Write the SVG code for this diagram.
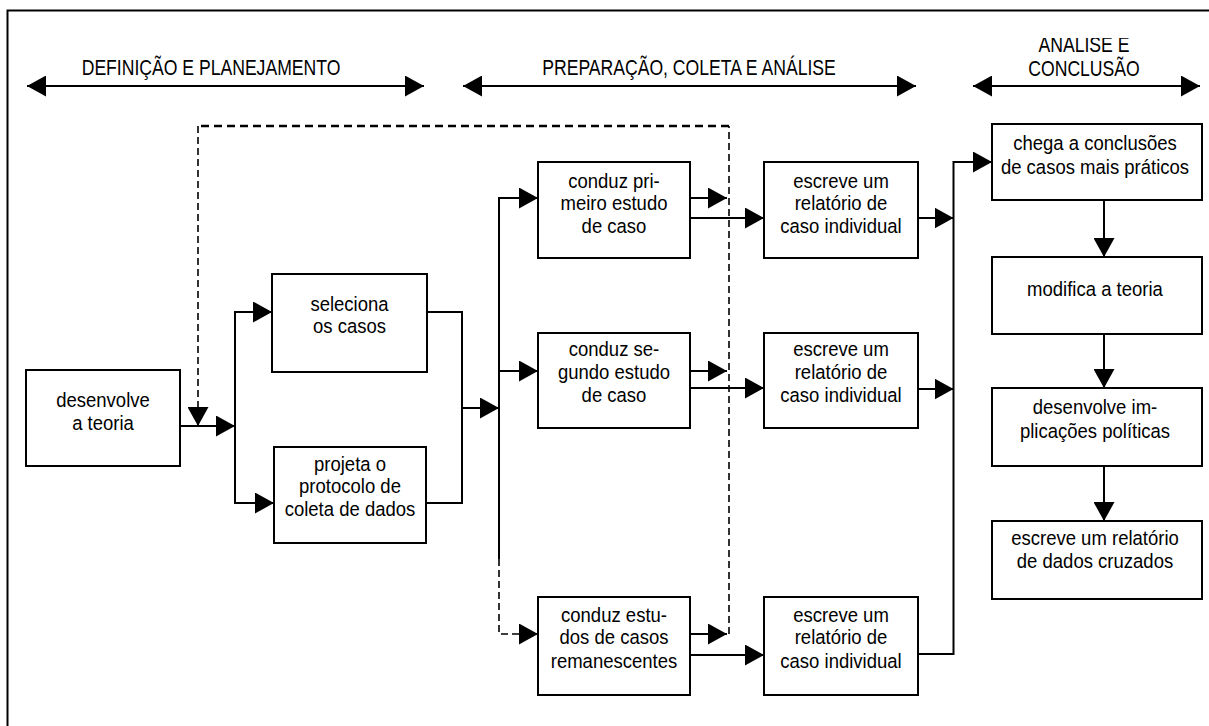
<svg xmlns="http://www.w3.org/2000/svg" width="1209" height="726" viewBox="0 0 1209 726">
<style>
.box{fill:#fff;stroke:#000;stroke-width:2}
.ln{fill:none;stroke:#000;stroke-width:2}
.ar{marker-end:url(#ah)}
.dash{fill:none;stroke:#000;stroke-width:1.6;stroke-dasharray:7 4}
.dasht{fill:none;stroke:#000;stroke-width:2.5;stroke-dasharray:8 5}
.dbl{fill:none;stroke:#000;stroke-width:2;marker-start:url(#ahs);marker-end:url(#ah)}
text{font-family:"Liberation Sans",Arial,sans-serif;fill:#000;text-anchor:middle}
.t{font-size:19.5px}
.h{font-size:22px}
</style>
<defs>
<marker id="ah" viewBox="0 0 19 21" refX="19" refY="10.5" markerWidth="19" markerHeight="21" markerUnits="userSpaceOnUse" orient="auto"><path d="M0,0 L19,10.5 L0,21 Z" fill="#000"/></marker>
<marker id="ahs" viewBox="0 0 19 21" refX="19" refY="10.5" markerWidth="19" markerHeight="21" markerUnits="userSpaceOnUse" orient="auto-start-reverse"><path d="M0,0 L19,10.5 L0,21 Z" fill="#000"/></marker>
<clipPath id="cut"><rect x="960" y="38" width="240" height="60"/></clipPath>
</defs>
<rect width="1209" height="726" fill="#fff"/>
<path class="ln" d="M7.5,726 V10.5 H1209"/>

<g id="phases">
<path class="dbl" d="M27,86 H424"/>
<path class="dbl" d="M463,86 H916"/>
<path class="dbl" d="M973,86 H1200"/>
<g transform="translate(211,0) scale(0.8,1)"><text class="h" x="0" y="75">DEFINIÇÃO E PLANEJAMENTO</text></g>
<g transform="translate(689,0) scale(0.8,1)"><text class="h" x="0" y="75">PREPARAÇÃO, COLETA E ANÁLISE</text></g>
<g clip-path="url(#cut)"><g transform="translate(1084,0) scale(0.8,1)"><text class="h" x="0" y="52">ANÁLISE E</text><text class="h" x="0" y="76">CONCLUSÃO</text></g></g>
</g>

<g id="connectors">
<path class="ln ar" d="M180,426 H235"/>
<path class="dash" d="M729,634 V126"/>
<path class="dasht" d="M729,126 H198"/>
<path class="dash ar" d="M198,126 V426"/>
<path class="ln ar" d="M235,426 V312 H272"/>
<path class="ln ar" d="M235,426 V503 H274"/>
<path class="ln" d="M427,312 H462 V503 H426"/>
<path class="ln ar" d="M462,408 H499"/>
<path class="ln ar" d="M499,559 V198 H538"/>
<path class="ln ar" d="M499,371 H538"/>
<path class="dash ar" d="M499,559 V634 H538"/>
<path class="ln ar" d="M690,198 H727"/>
<path class="ln ar" d="M690,218 H764"/>
<path class="ln ar" d="M690,371 H727"/>
<path class="ln ar" d="M690,388 H764"/>
<path class="ln ar" d="M690,634 H727"/>
<path class="ln ar" d="M690,655 H764"/>
<path class="ln ar" d="M918,218 H953.5"/>
<path class="ln ar" d="M918,389 H953.5"/>
<path class="ln ar" d="M918,654 H953.5 V162 H992"/>
<path class="ln ar" d="M1104,200 V257"/>
<path class="ln ar" d="M1104,334 V388"/>
<path class="ln ar" d="M1104,466 V521"/>
</g>

<g id="n-teoria"><rect class="box" x="26" y="370" width="154" height="96"/>
<g transform="translate(103,0) scale(0.95,1)"><text class="t" x="0" y="407">desenvolve</text><text class="t" x="0" y="430.5">a teoria</text></g></g>

<g id="n-seleciona"><rect class="box" x="272" y="274" width="155" height="98"/>
<g transform="translate(349.5,0) scale(0.95,1)"><text class="t" x="0" y="311.5">seleciona</text><text class="t" x="0" y="333.5">os casos</text></g></g>

<g id="n-projeta"><rect class="box" x="274" y="447" width="152" height="96"/>
<g transform="translate(350,0) scale(0.95,1)"><text class="t" x="0" y="471">projeta o</text><text class="t" x="0" y="493.5">protocolo de</text><text class="t" x="0" y="516.5">coleta de dados</text></g></g>

<g id="n-estudo1"><rect class="box" x="538" y="162" width="152" height="96"/>
<g transform="translate(614,0) scale(0.95,1)"><text class="t" x="0" y="188">conduz pri-</text><text class="t" x="0" y="210.5">meiro estudo</text><text class="t" x="0" y="233">de caso</text></g></g>

<g id="n-estudo2"><rect class="box" x="538" y="333" width="152" height="95"/>
<g transform="translate(614,0) scale(0.95,1)"><text class="t" x="0" y="356.5">conduz se-</text><text class="t" x="0" y="379.5">gundo estudo</text><text class="t" x="0" y="402.5">de caso</text></g></g>

<g id="n-estudo3"><rect class="box" x="538" y="597" width="152" height="98"/>
<g transform="translate(614,0) scale(0.95,1)"><text class="t" x="0" y="622.5">conduz estu-</text><text class="t" x="0" y="644.5">dos de casos</text><text class="t" x="0" y="668">remanescentes</text></g></g>

<g id="n-relatorio1"><rect class="box" x="764" y="162" width="154" height="96"/>
<g transform="translate(841,0) scale(0.95,1)"><text class="t" x="0" y="188">escreve um</text><text class="t" x="0" y="210.5">relatório de</text><text class="t" x="0" y="233">caso individual</text></g></g>

<g id="n-relatorio2"><rect class="box" x="764" y="333" width="154" height="95"/>
<g transform="translate(841,0) scale(0.95,1)"><text class="t" x="0" y="356.5">escreve um</text><text class="t" x="0" y="379.5">relatório de</text><text class="t" x="0" y="402.5">caso individual</text></g></g>

<g id="n-relatorio3"><rect class="box" x="764" y="597" width="154" height="98"/>
<g transform="translate(841,0) scale(0.95,1)"><text class="t" x="0" y="622.5">escreve um</text><text class="t" x="0" y="644.5">relatório de</text><text class="t" x="0" y="668">caso individual</text></g></g>

<g id="n-conclusoes"><rect class="box" x="992" y="124" width="210" height="76"/>
<g transform="translate(1095,0) scale(0.95,1)"><text class="t" x="0" y="150.5">chega a conclusões</text><text class="t" x="0" y="174">de casos mais práticos</text></g></g>

<g id="n-modifica"><rect class="box" x="992" y="257" width="210" height="77"/>
<g transform="translate(1095,0) scale(0.95,1)"><text class="t" x="0" y="296.5">modifica a teoria</text></g></g>

<g id="n-implicacoes"><rect class="box" x="992" y="388" width="210" height="78"/>
<g transform="translate(1095,0) scale(0.95,1)"><text class="t" x="0" y="414">desenvolve im-</text><text class="t" x="0" y="438">plicações políticas</text></g></g>

<g id="n-cruzados"><rect class="box" x="992" y="521" width="210" height="78"/>
<g transform="translate(1095,0) scale(0.95,1)"><text class="t" x="0" y="545">escreve um relatório</text><text class="t" x="0" y="568.5">de dados cruzados</text></g></g>
</svg>
